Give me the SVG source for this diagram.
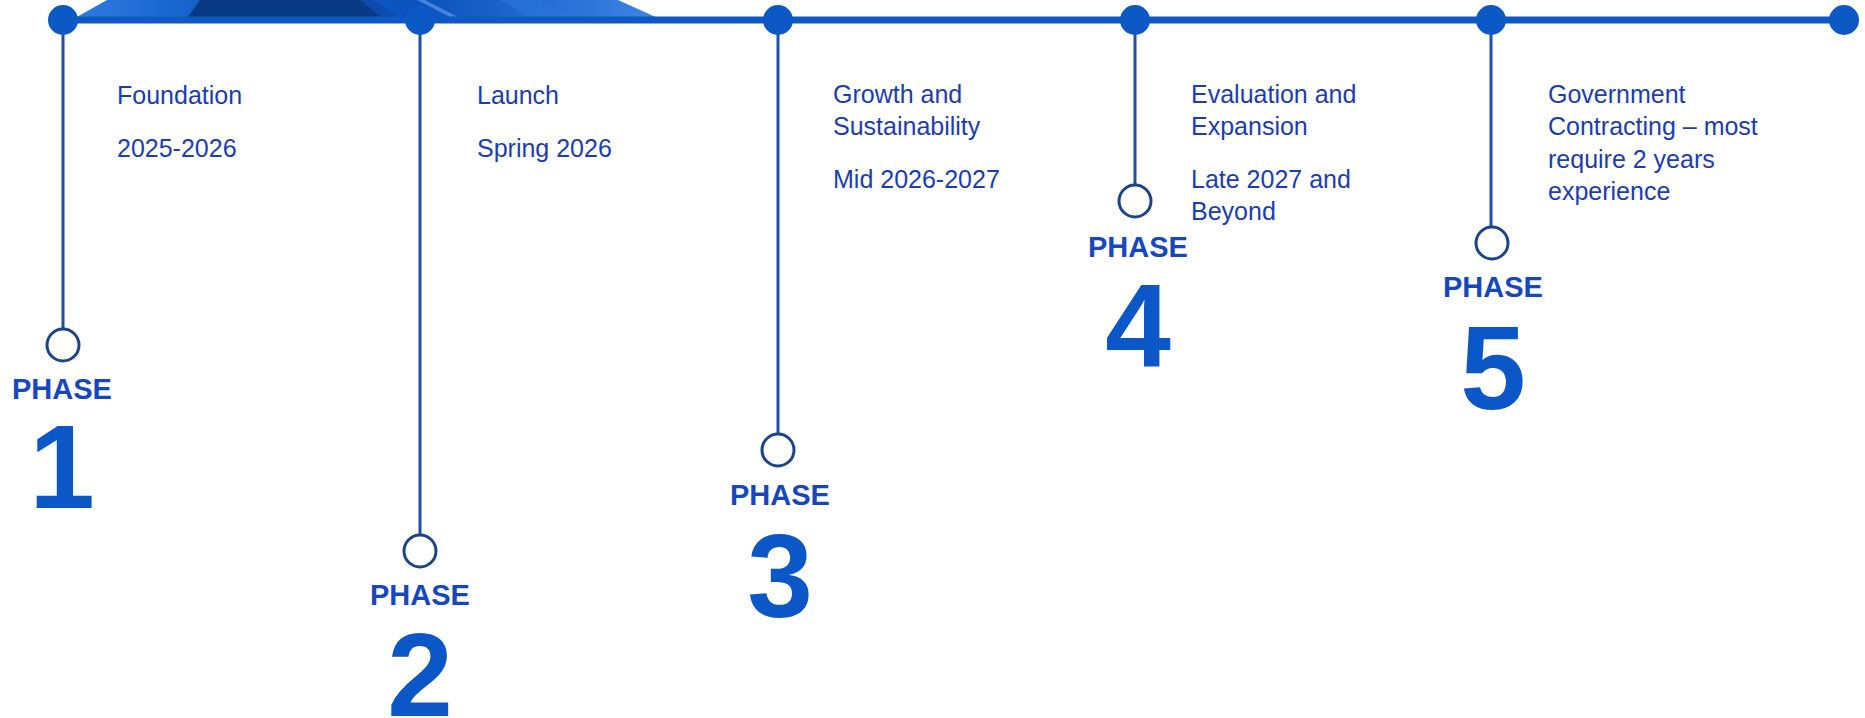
<svg xmlns="http://www.w3.org/2000/svg" width="1865" height="718" viewBox="0 0 1865 718">
  <style>
    .axis { stroke: #0c58c4; stroke-width: 7; fill: none; }
    .stem { stroke: #1d4fae; stroke-width: 3; fill: none; }
    .dot { fill: #0c58c4; }
    .ring { fill: #ffffff; stroke: #1b4587; stroke-width: 3; }
    .desc { font-family: "Liberation Sans", Arial, sans-serif; font-size: 25px; fill: #1a3db3; }
    .phase { font-family: "Liberation Sans", Arial, sans-serif; font-size: 29px; font-weight: bold; fill: #1647c2; text-anchor: middle; }
    .num { font-family: "Liberation Sans", Arial, sans-serif; font-size: 118px; font-weight: bold; fill: #0b57c7; text-anchor: middle; }
  </style>
  <defs>
    <linearGradient id="bannerFill" x1="0" y1="0" x2="1" y2="0">
      <stop offset="0" stop-color="#2f7be0"/>
      <stop offset="0.25" stop-color="#0f5cc8"/>
      <stop offset="0.6" stop-color="#0b52bd"/>
      <stop offset="1" stop-color="#3d86e6"/>
    </linearGradient>
  </defs>

  <rect width="1865" height="718" fill="#ffffff"/>

  <!-- decorative band sitting on the left part of the axis -->
  <g id="banner">
    <polygon points="75,18 107,0 618,0 658,18" fill="url(#bannerFill)"/>
    <polygon points="187,18 200,0 360,0 383,18" fill="#0a3a86"/>
    <polygon points="383,18 360,0 372,0 400,18" fill="#0c47a6" opacity="0.8"/>
    <polygon points="417,0 425,0 460,18 452,18" fill="#6aa3ee" opacity="0.6"/>
    <polygon points="500,0 540,0 570,18 530,18" fill="#2a74da" opacity="0.7"/>
  </g>

  <!-- timeline axis and drop lines -->
  <g id="connectors">
    <line class="axis" x1="63" y1="20" x2="1844" y2="20"/>
    <line class="stem" x1="63" y1="20" x2="63" y2="329"/>
    <line class="stem" x1="420" y1="20" x2="420" y2="535"/>
    <line class="stem" x1="778" y1="20" x2="778" y2="434"/>
    <line class="stem" x1="1135" y1="20" x2="1135" y2="185"/>
    <line class="stem" x1="1491" y1="20" x2="1491" y2="227"/>
  </g>

  <g id="phase-1">
    <circle class="dot" cx="63" cy="20" r="15"/>
    <circle class="ring" cx="63" cy="345" r="16"/>
    <text class="desc" x="117" y="104">Foundation</text>
    <text class="desc" x="117" y="157">2025-2026</text>
    <text class="phase" x="62" y="399">PHASE</text>
    <text class="num" x="62" y="508">1</text>
  </g>

  <g id="phase-2">
    <circle class="dot" cx="420" cy="20" r="15"/>
    <circle class="ring" cx="420" cy="551" r="16"/>
    <text class="desc" x="477" y="104">Launch</text>
    <text class="desc" x="477" y="157">Spring 2026</text>
    <text class="phase" x="420" y="605">PHASE</text>
    <text class="num" x="420" y="716">2</text>
  </g>

  <g id="phase-3">
    <circle class="dot" cx="778" cy="20" r="15"/>
    <circle class="ring" cx="778" cy="450" r="16"/>
    <text class="desc" x="833" y="103">Growth and</text>
    <text class="desc" x="833" y="135">Sustainability</text>
    <text class="desc" x="833" y="188">Mid 2026-2027</text>
    <text class="phase" x="780" y="505">PHASE</text>
    <text class="num" x="780" y="617">3</text>
  </g>

  <g id="phase-4">
    <circle class="dot" cx="1135" cy="20" r="15"/>
    <circle class="ring" cx="1135" cy="201" r="16"/>
    <text class="desc" x="1191" y="103">Evaluation and</text>
    <text class="desc" x="1191" y="135">Expansion</text>
    <text class="desc" x="1191" y="188">Late 2027 and</text>
    <text class="desc" x="1191" y="220">Beyond</text>
    <text class="phase" x="1138" y="257">PHASE</text>
    <text class="num" x="1138" y="367">4</text>
  </g>

  <g id="phase-5">
    <circle class="dot" cx="1491" cy="20" r="15"/>
    <circle class="ring" cx="1492" cy="243" r="16"/>
    <text class="desc" x="1548" y="103">Government</text>
    <text class="desc" x="1548" y="135">Contracting – most</text>
    <text class="desc" x="1548" y="168">require 2 years</text>
    <text class="desc" x="1548" y="200">experience</text>
    <text class="phase" x="1493" y="297">PHASE</text>
    <text class="num" x="1493" y="409">5</text>
  </g>

  <g id="axis-end">
    <circle class="dot" cx="1844" cy="20" r="15"/>
  </g>
</svg>
